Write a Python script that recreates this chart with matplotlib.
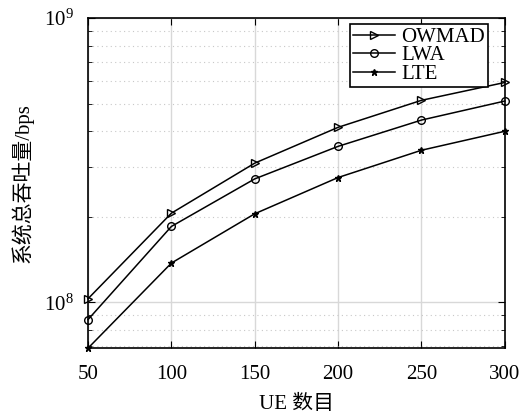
import numpy as np
import matplotlib
matplotlib.use("Agg")
import matplotlib.pyplot as plt
from matplotlib.ticker import LogLocator, NullFormatter

plt.rcParams['font.family'] = ['Liberation Serif', 'Noto Sans CJK SC']
plt.rcParams['mathtext.fontset'] = 'stix'

ue = [50, 100, 150, 200, 250, 300]
owmad = [1.03e8, 2.06e8, 3.09e8, 4.13e8, 5.14e8, 5.94e8]
lwa = [8.7e7, 1.85e8, 2.72e8, 3.54e8, 4.38e8, 5.11e8]
lte = [6.9e7, 1.375e8, 2.05e8, 2.75e8, 3.43e8, 4.0e8]

fig = plt.figure(figsize=(5.21, 4.13), dpi=100)
ax = fig.add_axes([0.169, 0.157, 0.8, 0.799])

ax.plot(ue, owmad, color="black", lw=1.1, marker=">", ms=5.5, mfc="none", mec="black",
        mew=1.0, label="OWMAD", clip_on=False)
ax.plot(ue, lwa, color="black", lw=1.1, marker="o", ms=5.5, mfc="none", mec="black",
        mew=1.0, label="LWA", clip_on=False)
ax.plot(ue, lte, color="black", lw=1.1, marker="*", ms=5, mfc="black", mec="black",
        label="LTE", clip_on=False)

ax.set_yscale("log")
ax.set_xlim(50, 300)
ax.set_ylim(6.9e7, 1e9)
ax.set_xticks(ue)
ax.yaxis.set_minor_locator(LogLocator(base=10, subs=np.arange(2, 10)))
ax.yaxis.set_minor_formatter(NullFormatter())

ax.grid(True, which="major", color="#d8d8d8", lw=1.0, ls="-")
ax.grid(True, which="minor", axis="y", color="#c8c8c8", lw=0.8, ls=(0, (1, 3)))
ax.set_axisbelow(True)

ax.tick_params(which="both", direction="in", top=True, right=True, labelsize=15)
ax.tick_params(axis="x", which="major", length=5, pad=12)
ax.tick_params(axis="y", which="major", length=5, pad=10)
ax.tick_params(which="minor", length=3)
for s in ax.spines.values():
    s.set_linewidth(1.2)

ax.set_xlabel("UE 数目", fontsize=15, labelpad=8)
ax.set_ylabel("系统总吞吐量/bps", fontsize=15, labelpad=8)

leg = ax.legend(loc="upper right", bbox_to_anchor=(0.959, 0.982), fontsize=15,
                fancybox=False, edgecolor="black", framealpha=1, borderpad=0.15,
                labelspacing=-0.05, handlelength=2.0, handletextpad=0.3,
                borderaxespad=0)
leg.get_frame().set_linewidth(1.2)

fig.savefig("out.png", dpi=100)
